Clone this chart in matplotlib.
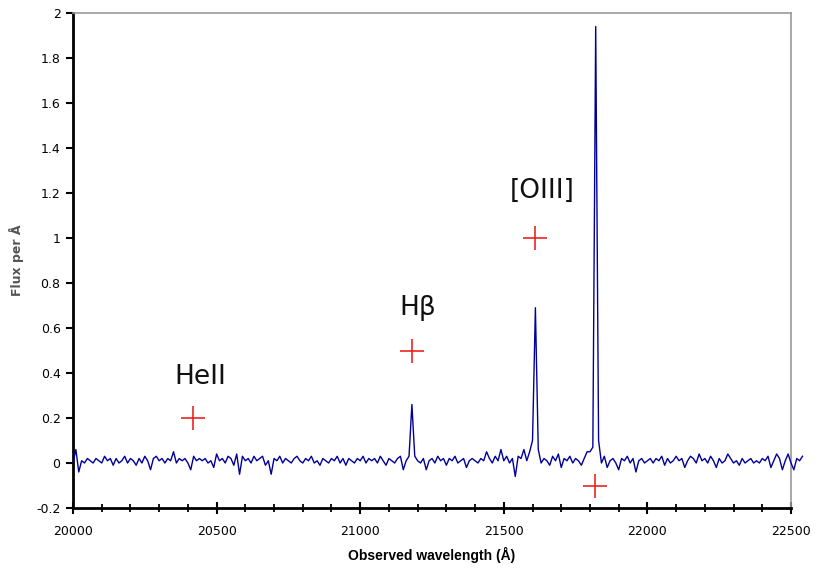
import numpy as np
import matplotlib
matplotlib.use("Agg")
import matplotlib.pyplot as plt
from matplotlib.ticker import MultipleLocator

# spectrum, sampled every 10 A from 20000 A
wl_start = 20000
wl_step = 10
flux = [
    0.00, 0.06, -0.04, 0.01, 0.00, 0.02, 0.01, 0.00, 0.02, 0.01, 0.00, 0.03, 0.01, 0.02, -0.01, 0.02, 0.00, 0.01, 0.03, 0.00,
    0.02, 0.01, -0.01, 0.02, 0.00, 0.03, 0.01, -0.03, 0.02, 0.03, 0.01, 0.02, 0.00, 0.02, 0.01, 0.05, 0.00, 0.02, 0.01, 0.02,
    0.00, -0.03, 0.03, 0.01, 0.02, 0.01, 0.02, 0.00, 0.01, -0.02, 0.04, 0.01, 0.02, 0.00, 0.03, 0.02, -0.01, 0.04, -0.05, 0.03,
    0.01, 0.02, 0.00, 0.03, 0.01, 0.02, 0.03, -0.01, 0.01, -0.05, 0.02, 0.01, 0.03, 0.00, 0.02, 0.01, 0.00, 0.02, 0.03, 0.01,
    0.00, 0.02, 0.01, 0.03, 0.00, 0.01, -0.01, 0.02, 0.01, 0.00, 0.02, 0.01, 0.03, 0.00, 0.02, -0.01, 0.02, 0.01, 0.00, 0.02,
    0.01, 0.03, 0.00, 0.02, 0.01, 0.02, 0.00, 0.03, 0.01, -0.01, 0.02, 0.01, 0.00, 0.02, 0.03, -0.03, 0.01, 0.03, 0.26, 0.03,
    0.01, 0.00, 0.02, -0.03, 0.01, 0.02, 0.00, 0.03, 0.01, 0.02, -0.01, 0.02, 0.01, 0.03, 0.00, 0.01, 0.02, -0.02, 0.01, 0.02,
    0.01, 0.00, 0.02, 0.01, 0.05, 0.02, 0.00, 0.03, 0.01, 0.06, 0.01, 0.03, 0.00, 0.02, -0.06, 0.03, 0.02, 0.06, 0.01, 0.05,
    0.10, 0.69, 0.06, 0.00, 0.02, 0.01, -0.01, 0.03, 0.01, 0.04, -0.02, 0.02, 0.01, 0.03, 0.00, 0.02, 0.01, -0.01, 0.02, 0.05,
    0.05, 0.07, 1.94, 0.10, 0.00, 0.03, -0.02, 0.01, 0.02, 0.00, -0.03, 0.02, 0.01, 0.03, 0.00, 0.02, -0.04, 0.01, 0.02, 0.00,
    0.01, 0.02, 0.00, 0.02, 0.01, 0.03, -0.01, 0.02, 0.00, 0.01, 0.03, 0.01, 0.02, -0.02, 0.01, 0.03, 0.02, 0.00, 0.04, 0.01,
    0.02, 0.00, 0.03, 0.01, -0.02, 0.02, 0.00, 0.01, 0.04, 0.02, 0.00, 0.01, -0.01, 0.02, 0.00, 0.01, 0.02, 0.00, 0.01, 0.00,
    0.02, 0.01, 0.03, -0.02, 0.01, 0.04, 0.02, -0.03, 0.01, 0.04, 0.00, -0.03, 0.02, 0.01, 0.03,
]
wavelength = wl_start + wl_step * np.arange(len(flux))

# expected line positions (red crosses) and labels
mark_x = [20418, 21180, 21609, 21817]
mark_y = [0.2, 0.5, 1.0, -0.1]
labels = ["HeII", "H\u03b2", "[OIII]"]
label_x = [20442, 21201, 21633]
label_y = [0.38, 0.69, 1.21]

fig = plt.figure(figsize=(8.26, 5.69), dpi=100)
ax = fig.add_axes([73/826, 1-508/569, (791-73)/826, (508-13)/569])

ax.plot(wavelength, flux, color="#000099", lw=1.0, clip_on=False, zorder=3)
ax.plot(mark_x, mark_y, "+", color="#ee2222", ms=17, mew=1.2, clip_on=False, zorder=4)
for t, x, y in zip(labels, label_x, label_y):
    ax.text(x, y, t, fontsize=19, ha="center", va="center", color="#111111")

ax.set_xlim(20000, 22500)
ax.set_ylim(-0.2, 2)
ax.xaxis.set_major_locator(MultipleLocator(500))
ax.xaxis.set_minor_locator(MultipleLocator(100))
ax.yaxis.set_major_locator(MultipleLocator(0.2))
ax.set_yticklabels([f"{v:g}" for v in ax.get_yticks()])

for s in ["left", "bottom"]:
    ax.spines[s].set_linewidth(2)
    ax.spines[s].set_color("black")
for s in ["top", "right"]:
    ax.spines[s].set_linewidth(1.2)
    ax.spines[s].set_color("#999999")

ax.tick_params(axis="x", which="major", direction="inout", length=9, width=1.5, labelsize=9, pad=8)
ax.tick_params(axis="x", which="minor", direction="inout", length=6, width=1.3)
ax.tick_params(axis="y", direction="out", length=5, width=1.5, labelsize=9, pad=4)

ax.set_xlabel("Observed wavelength (\u00c5)", fontsize=10, fontweight="bold",
              family=["Liberation Sans", "DejaVu Sans"], labelpad=6)
ax.set_ylabel("Flux per \u00c5", fontsize=9, fontweight="bold", color="#555555", labelpad=9)

plt.savefig("out.png", dpi=100)
